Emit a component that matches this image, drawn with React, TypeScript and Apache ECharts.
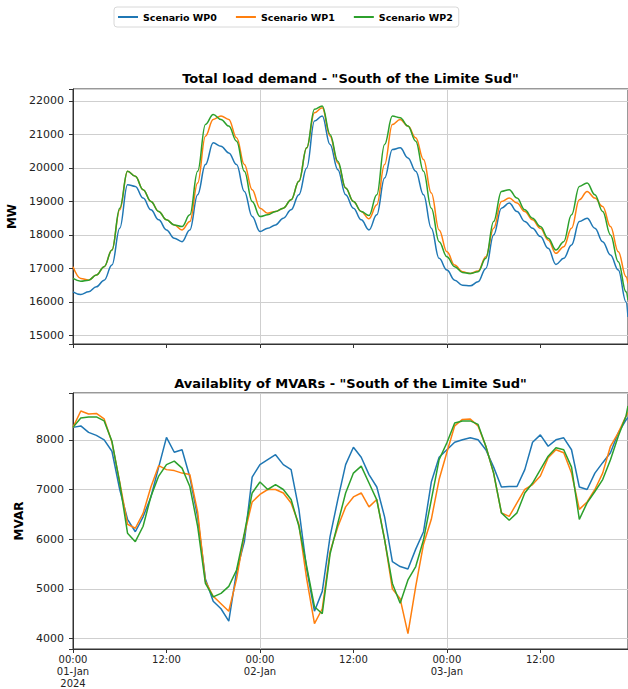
import { useEffect, useRef } from "react";
import * as echarts from "echarts";

// hours since 2024-01-01 00:00
const hours = [
  0, 1, 2, 3, 4, 5, 6, 7, 8, 9, 10, 11, 12, 13, 14, 15, 16, 17, 18, 19, 20, 21, 22, 23,
  24, 25, 26, 27, 28, 29, 30, 31, 32, 33, 34, 35, 36, 37, 38, 39, 40, 41, 42, 43, 44, 45, 46, 47,
  48, 49, 50, 51, 52, 53, 54, 55, 56, 57, 58, 59, 60, 61, 62, 63, 64, 65, 66, 67, 68, 69, 70, 71,
  71.25,
];

const seriesNames = ["Scenario WP0", "Scenario WP1", "Scenario WP2"];
const seriesColors = ["#1f77b4", "#ff7f0e", "#2ca02c"];

const loadWP0 = [
  16300, 16220, 16300, 16450, 16650, 17100, 18200, 19500, 19450, 19100, 18750, 18450, 18150, 17900, 17800, 18150, 19200, 20100, 20750, 20650, 20450, 20100, 19300, 18550,
  18100, 18200, 18300, 18500, 18750, 19200, 20000, 21400, 21550, 20700, 19950, 19200, 18800, 18450, 18150, 18600, 19700, 20550, 20600, 20300, 19900, 19200, 18200, 17300,
  16950, 16650, 16500, 16480, 16600, 17000, 18000, 18800, 18950, 18700, 18400, 18200, 17950, 17600, 17120, 17300, 17700, 18400, 18500, 18200, 17800, 17400, 16950, 16000,
  15550,
];
const loadWP1 = [
  17050, 16700, 16650, 16800, 17050, 17550, 18750, 19900, 19750, 19350, 19000, 18700, 18450, 18300, 18150, 18400, 19550, 20950, 21450, 21550, 21450, 20900, 20100, 19350,
  18800, 18650, 18700, 18800, 19050, 19600, 20600, 21650, 21800, 20950, 20150, 19400, 19000, 18700, 18480, 18900, 20100, 21300, 21450, 21250, 20900, 20250, 19250, 18150,
  17500, 17100, 16900, 16850, 16920, 17350, 18200, 19000, 19100, 18950, 18700, 18450, 18200, 17850, 17450, 17650, 18200, 19050, 19300, 19100, 18850, 18250, 17500, 16750,
  16550,
];
const loadWP2 = [
  16700, 16620, 16650, 16800, 17050, 17550, 18800, 19900, 19750, 19350, 19000, 18700, 18450, 18300, 18250, 18600, 19900, 21300, 21600, 21450, 21250, 20800, 19900, 19000,
  18550, 18600, 18700, 18800, 19050, 19600, 20600, 21750, 21850, 21000, 20200, 19400, 19000, 18700, 18580, 19200, 20700, 21550, 21500, 21250, 20800, 19900, 18800, 17800,
  17350, 17050, 16880, 16850, 16900, 17300, 18400, 19300, 19350, 19100, 18750, 18500, 18250, 17900, 17550, 17800, 18600, 19450, 19550, 19200, 18700, 18000, 17200, 16300,
  16050,
];

const mvarWP0 = [
  8250, 8280, 8150, 8090, 8000, 7770, 7000, 6400, 6150, 6450, 6850, 7450, 8050, 7750, 7800, 7250, 6450, 5200, 4750, 4600, 4350, 5350, 5950, 7250,
  7500, 7600, 7700, 7500, 7400, 6600, 5400, 4550, 4950, 6050, 6800, 7500, 7850, 7650, 7300, 7050, 6450, 5550, 5450, 5400, 5800, 6150, 7150, 7650,
  7800, 7950, 8000, 8040, 8000, 7800, 7450, 7050, 7060, 7060, 7400, 7950, 8100, 7870, 8000, 8040, 7800, 7050, 7000, 7330, 7540, 7740, 8140, 8400,
  8450,
];
const mvarWP1 = [
  8250, 8580, 8520, 8530, 8420, 7950, 7150, 6300, 6220, 6520, 7050, 7480, 7400, 7380, 7330, 7300, 6550, 5150, 4850, 4700, 4550, 5200, 6100, 6750,
  6900, 7000, 7000, 6930, 6730, 6300, 5200, 4300, 4600, 5750, 6250, 6650, 6850, 6930, 6650, 6800, 6000, 5000, 4800, 4100, 5050, 5900, 6400, 7200,
  7750, 8280, 8410, 8420, 8280, 7870, 7330, 6530, 6460, 6730, 7000, 7100, 7270, 7640, 7800, 7740, 7330, 6600, 6750, 7000, 7330, 7870, 8140, 8480,
  8550,
];
const mvarWP2 = [
  8250, 8440, 8460, 8460, 8380, 7970, 7130, 6120, 5950, 6260, 6860, 7270, 7500, 7570, 7430, 7060, 6260, 5110, 4840, 4910, 5050, 5380, 6120, 6930,
  7150, 7000, 7100, 7000, 6800, 6260, 5450, 4640, 4500, 5700, 6320, 6930, 7330, 7470, 7130, 6790, 5990, 5110, 4710, 5180, 5450, 5990, 6790, 7600,
  7940, 8340, 8380, 8380, 8310, 7870, 7330, 6530, 6380, 6530, 6930, 7130, 7400, 7670, 7840, 7800, 7450, 6400, 6730, 6960, 7200, 7600, 8070, 8480,
  8680,
];

const xTickLabels = ["00:00\n01-Jan\n2024", "12:00", "00:00\n02-Jan", "12:00", "00:00\n03-Jan", "12:00"];
const loadRange = [14743, 22358];
const mvarRange = [3790, 8942];
const xMax = 71.25;

const titleTop = 'Total load demand - "South of the Limite Sud"';
const titleBottom = 'Availablity of MVARs - "South of the Limite Sud"';

const FONT = "DejaVu Sans";
const AXIS_COLOR = "#333";
const GRID_COLOR = "#cfcfcf";

function pairs(values: number[]) {
  return hours.map((h, i) => [h, values[i]]);
}

function buildOption() {
  const loads = [loadWP0, loadWP1, loadWP2];
  const mvars = [mvarWP0, mvarWP1, mvarWP2];

  const baseX = (gridIndex: number, labels: boolean) => ({
    type: "value",
    gridIndex,
    min: 0,
    max: xMax,
    interval: 12,
    axisLine: { show: true, onZero: false, lineStyle: { color: AXIS_COLOR, width: 1 } },
    axisTick: { show: true, length: 4, lineStyle: { color: AXIS_COLOR } },
    splitLine: { show: false },
    axisLabel: {
      show: labels,
      margin: 4,
      fontFamily: FONT,
      fontSize: 10,
      lineHeight: 12,
      color: "#222",
      formatter: (v: number) => (v % 12 === 0 ? xTickLabels[v / 12] ?? "" : ""),
    },
  });
  const gridX = (gridIndex: number) => ({
    type: "value",
    gridIndex,
    min: 0,
    max: xMax,
    interval: 24,
    axisLine: { show: false },
    axisTick: { show: false },
    axisLabel: { show: false },
    splitLine: { show: true, lineStyle: { color: GRID_COLOR, width: 1 } },
  });
  const baseY = (gridIndex: number, range: number[], splitNumber: number, name: string, nameGap: number) => ({
    type: "value",
    gridIndex,
    min: range[0],
    max: range[1],
    splitNumber,
    name,
    nameLocation: "middle",
    nameGap,
    nameTextStyle: { fontFamily: FONT, fontSize: 12, fontWeight: "bold", color: "#000" },
    axisLine: { show: true, lineStyle: { color: AXIS_COLOR, width: 1 } },
    axisTick: { show: true, length: 4, lineStyle: { color: AXIS_COLOR } },
    splitLine: { show: true, lineStyle: { color: GRID_COLOR, width: 1 } },
    axisLabel: {
      margin: 9,
      fontFamily: FONT,
      fontSize: 11,
      color: "#222",
      formatter: (v: number) => (v % 1000 === 0 ? String(v) : ""),
    },
  });

  const series: any[] = [];
  seriesNames.forEach((name, i) => {
    series.push({
      name,
      type: "line",
      xAxisIndex: 0,
      yAxisIndex: 0,
      data: pairs(loads[i]),
      symbol: "none",
      smooth: 0.4,
      smoothMonotone: "x",
      lineStyle: { color: seriesColors[i], width: 1.5 },
      itemStyle: { color: seriesColors[i] },
      z: 3 + i,
    });
  });
  seriesNames.forEach((name, i) => {
    series.push({
      name,
      type: "line",
      xAxisIndex: 1,
      yAxisIndex: 1,
      data: pairs(mvars[i]),
      symbol: "none",
      smooth: false,
      lineStyle: { color: seriesColors[i], width: 1.5 },
      itemStyle: { color: seriesColors[i] },
      z: 3 + i,
    });
  });

  return {
    animation: false,
    backgroundColor: "#fff",
    textStyle: { fontFamily: FONT },
    legend: {
      data: seriesNames,
      left: 114,
      top: 7,
      padding: [5, 6, 5, 4],
      itemGap: 19,
      itemWidth: 20,
      itemHeight: 2,
      icon: "rect",
      borderColor: "#d8d8d8",
      borderWidth: 1,
      borderRadius: 3,
      textStyle: { fontFamily: FONT, fontSize: 9.5, fontWeight: "bold", color: "#000" },
    },
    graphic: [
      {
        type: "text",
        x: 350.5,
        y: 78,
        style: { text: titleTop, font: `bold 13px "${FONT}"`, fill: "#000", align: "center", verticalAlign: "middle" },
      },
      {
        type: "text",
        x: 350.5,
        y: 383,
        style: { text: titleBottom, font: `bold 13px "${FONT}"`, fill: "#000", align: "center", verticalAlign: "middle" },
      },
    ],
    grid: [
      { left: 73, top: 89, right: 0, height: 255, outerBoundsMode: "none", containLabel: false, show: true, borderColor: AXIS_COLOR, borderWidth: 1, backgroundColor: "transparent" },
      { left: 73, top: 393, right: 0, height: 256, outerBoundsMode: "none", containLabel: false, show: true, borderColor: AXIS_COLOR, borderWidth: 1, backgroundColor: "transparent" },
    ],
    xAxis: [baseX(0, false), baseX(1, true), gridX(0), gridX(1)],
    yAxis: [baseY(0, loadRange, 8, "MW", 48), baseY(1, mvarRange, 5, "MVAR", 38)],
    series,
  };
}

export default function App() {
  const ref = useRef<HTMLDivElement>(null);
  useEffect(() => {
    if (!ref.current) return;
    const chart = echarts.init(ref.current, null, { renderer: "svg" });
    chart.setOption(buildOption() as any);
    return () => chart.dispose();
  }, []);
  return (
    <div
      ref={ref}
      style={{ position: "fixed", left: 0, top: 0, width: 628, height: 689, background: "#fff" }}
    />
  );
}
